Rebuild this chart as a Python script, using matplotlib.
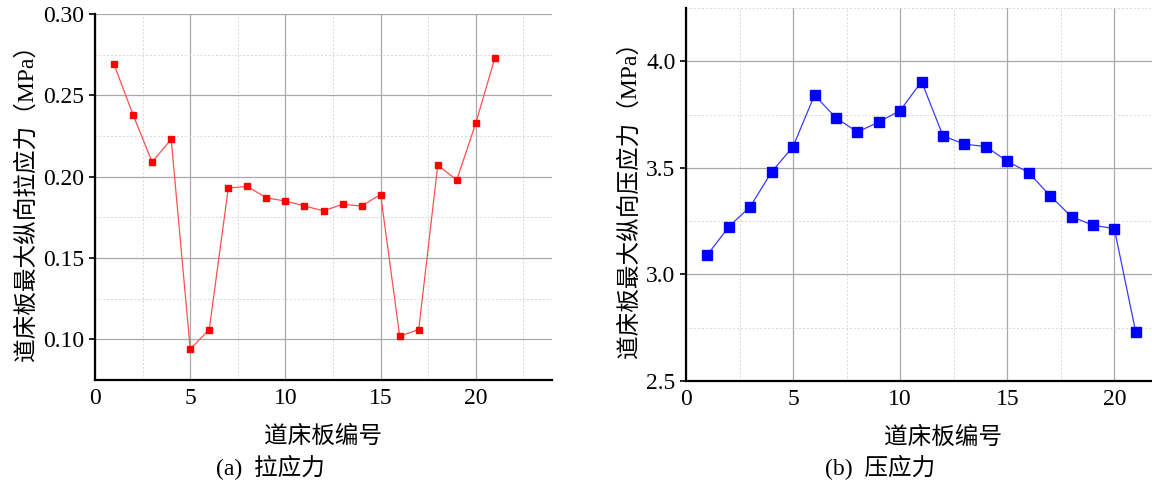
import matplotlib
matplotlib.use("Agg")
import matplotlib.pyplot as plt
import numpy as np

plt.rcParams["font.family"] = ["Liberation Serif", "Noto Sans CJK SC", "DejaVu Sans"]

# panel (a): tensile stress, panel (b): compressive stress
slab_no = np.arange(1, 22)
tension = [0.269, 0.238, 0.209, 0.223, 0.094, 0.106, 0.193, 0.194, 0.187, 0.185,
           0.182, 0.179, 0.183, 0.182, 0.189, 0.102, 0.106, 0.207, 0.198, 0.233, 0.273]
compression = [3.092, 3.224, 3.318, 3.481, 3.600, 3.841, 3.735, 3.668, 3.715, 3.769,
               3.905, 3.650, 3.611, 3.600, 3.531, 3.478, 3.369, 3.271, 3.231, 3.215, 2.729]

x_ticks = [0, 5, 10, 15, 20]
ten_ticks = [0.10, 0.15, 0.20, 0.25, 0.30]
com_ticks = [2.5, 3.0, 3.5, 4.0]

XLABEL = "道床板编号"
YLABEL_A = "道床板最大纵向拉应力（MPa）"
YLABEL_B = "道床板最大纵向压应力（MPa）"
CAP_A = "(a)  拉应力"
CAP_B = "(b)  压应力"

W, H = 1152, 484
fig = plt.figure(figsize=(W / 100, H / 100), dpi=100)


def style_axes(ax, xminor, yminor):
    ax.set_xticks(xminor, minor=True)
    ax.set_yticks(yminor, minor=True)
    ax.grid(True, which="major", color="#a8a8a8", lw=0.9, ls="-")
    ax.grid(True, which="minor", color="#d8d8d8", lw=0.7, ls=(0, (2, 2)))
    ax.set_axisbelow(True)
    for s in ("top", "right"):
        ax.spines[s].set_visible(False)
    for s in ("left", "bottom"):
        ax.spines[s].set_linewidth(1.6)
    ax.tick_params(which="minor", length=0)
    ax.tick_params(which="major", direction="out", length=4, width=1.2, labelsize=17)
    ax.tick_params(axis="x", length=0, pad=6)


# (a)
ax1 = fig.add_axes([95 / W, 1 - 380 / H, (552 - 95) / W, (380 - 14) / H])
ax1.plot(slab_no, tension, color="#ff5050", lw=0.9, marker="s", ms=4,
         mfc="#ff0000", mec="#ff0000", clip_on=False)
ax1.set_xlim(0, 24)
ax1.set_ylim(0.075, 0.30)
ax1.set_xticks(x_ticks)
ax1.set_yticks(ten_ticks)
ax1.set_yticklabels([f"{v:.2f}" for v in ten_ticks])
style_axes(ax1, [2.5, 7.5, 12.5, 17.5, 22.5], [0.125, 0.175, 0.225, 0.275])
ax1.set_xlabel(XLABEL, fontsize=17, labelpad=12)
ax1.set_ylabel(YLABEL_A, fontsize=17, labelpad=4)
fig.text(270 / W, 1 - 468 / H, CAP_A, fontsize=17, ha="center", va="center")

# (b)
ax2 = fig.add_axes([686 / W, 1 - 381 / H, (1200 - 686) / W, (381 - 8) / H])
ax2.plot(slab_no, compression, color="#3a3aff", lw=0.9, marker="s", ms=7,
         mfc="#0000ff", mec="#0000ff", clip_on=False)
ax2.set_xlim(0, 24)
ax2.set_ylim(2.5, 4.25)
ax2.set_xticks(x_ticks)
ax2.set_yticks(com_ticks)
ax2.set_yticklabels([f"{v:.1f}" for v in com_ticks])
style_axes(ax2, [2.5, 7.5, 12.5, 17.5, 22.5], [2.75, 3.25, 3.75, 4.25])
ax2.set_xlabel(XLABEL, fontsize=17, labelpad=12)
ax2.set_ylabel(YLABEL_B, fontsize=17, labelpad=4)
fig.text(880 / W, 1 - 468 / H, CAP_B, fontsize=17, ha="center", va="center")

fig.savefig("out.png", dpi=100)
